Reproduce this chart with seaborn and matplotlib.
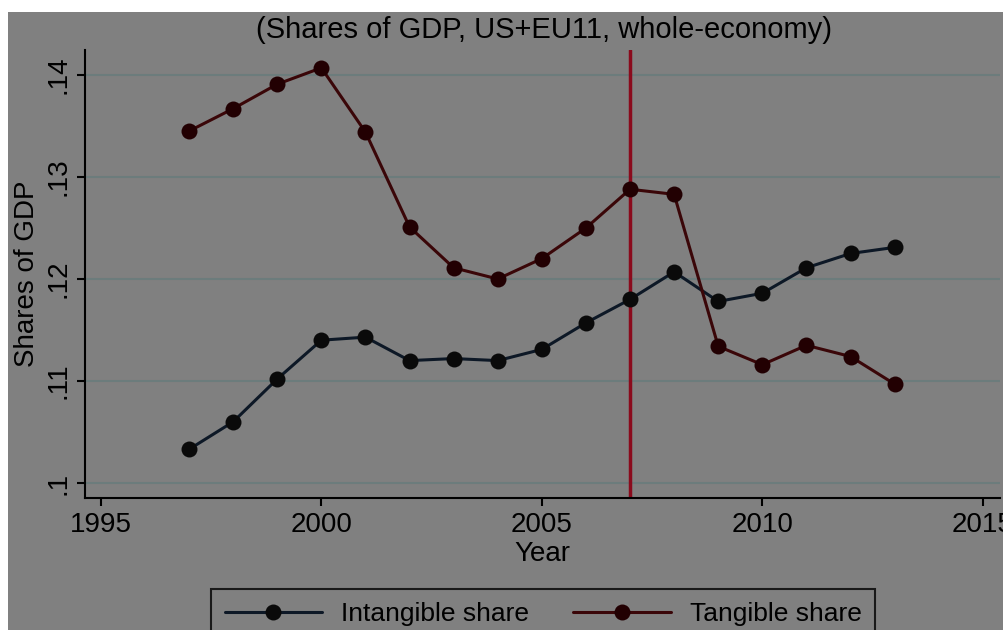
import numpy as np
import pandas as pd
import matplotlib
matplotlib.use("Agg")
import matplotlib.pyplot as plt
import seaborn as sns
from matplotlib.patches import Rectangle

# ---- data ----
years = list(range(1997, 2014))
intangible = [0.1033, 0.1060, 0.1102, 0.1140, 0.1143, 0.1120, 0.1122, 0.1120,
              0.1131, 0.1157, 0.1180, 0.1207, 0.1178, 0.1186, 0.1211, 0.1225, 0.1231]
tangible = [0.1345, 0.1367, 0.1391, 0.1407, 0.1344, 0.1251, 0.1211, 0.1200,
            0.1220, 0.1250, 0.1288, 0.1283, 0.1134, 0.1116, 0.1135, 0.1124, 0.1097]
series_names = ["Intangible share", "Tangible share"]
crisis_year = 2007
y_ticks = [0.10, 0.11, 0.12, 0.13, 0.14]
y_tick_labels = [".1", ".11", ".12", ".13", ".14"]
x_ticks = [1995, 2000, 2005, 2010, 2015]

df = pd.DataFrame({
    "Year": years * 2,
    "value": intangible + tangible,
    "series": [series_names[0]] * len(years) + [series_names[1]] * len(years),
})

bg = "#808080"
line_cols = {"Intangible share": "#0d1826", "Tangible share": "#3a0608"}
marker_cols = {"Intangible share": "#0a0a0a", "Tangible share": "#220002"}

sns.set_theme(style="white")
plt.rcParams["font.family"] = ["Liberation Sans", "DejaVu Sans"]
plt.rcParams["font.size"] = 20
plt.rcParams["text.color"] = "black"

fig = plt.figure(figsize=(10.04, 6.3), dpi=100, facecolor="white")
fig.patches.append(Rectangle((8 / 1004, 0), 1, 1 - 12 / 630, transform=fig.transFigure,
                             facecolor=bg, edgecolor="none", zorder=-10))
ax = fig.add_axes([85 / 1004, 1 - 498 / 630, 915 / 1004, 448 / 630])
ax.set_facecolor(bg)

for y in y_ticks:
    ax.axhline(y, color="#6c7c7c", lw=1.5, zorder=0)

ax.axvline(crisis_year, color="#8a0a1c", lw=2.5, zorder=1)

sns.lineplot(data=df, x="Year", y="value", hue="series", palette=line_cols,
             marker="o", markersize=11.5, markeredgecolor="none", lw=2.2,
             dashes=False, ax=ax, legend=False, zorder=3)
for ln in ax.get_lines():
    for n in series_names:
        if ln.get_color() == line_cols[n]:
            ln.set_markerfacecolor(marker_cols[n])

ax.set_xlim(1994.64, 2015.39)
ax.set_ylim(0.09853, 0.14245)
ax.set_xticks(x_ticks)
ax.set_yticks(y_ticks)
ax.set_yticklabels(y_tick_labels, rotation=90, va="center")
ax.tick_params(axis="both", direction="out", length=6, width=1.5, color="black",
               labelsize=20, labelcolor="black", left=True, bottom=True, pad=4)
for s in ["top", "right"]:
    ax.spines[s].set_visible(False)
for s in ["left", "bottom"]:
    ax.spines[s].set_color("black")
    ax.spines[s].set_linewidth(1.5)

ax.set_xlabel("Year", fontsize=20, color="black", labelpad=2)
ax.set_ylabel("Shares of GDP", fontsize=20, color="black", labelpad=4)
fig.text(0.542, 1 - 30 / 630, "(Shares of GDP, US+EU11, whole-economy)",
         ha="center", va="center", fontsize=21, color="black")

handles = [plt.Line2D([], [], color=line_cols[n], marker="o", markersize=11.5,
                      markerfacecolor=marker_cols[n], markeredgecolor="none", lw=2.2)
           for n in series_names]
leg = fig.legend(handles, series_names, loc="upper center", ncol=2,
                 bbox_to_anchor=(543 / 1004, 1 - 576 / 630), frameon=True,
                 fontsize=19, handlelength=3.7, handletextpad=0.7,
                 columnspacing=1.7, borderpad=0.5, fancybox=False,
                 labelcolor="black")
leg.get_frame().set_facecolor(bg)
leg.get_frame().set_edgecolor("black")
leg.get_frame().set_linewidth(1.5)

fig.savefig("out.png", dpi=100, facecolor="white")
